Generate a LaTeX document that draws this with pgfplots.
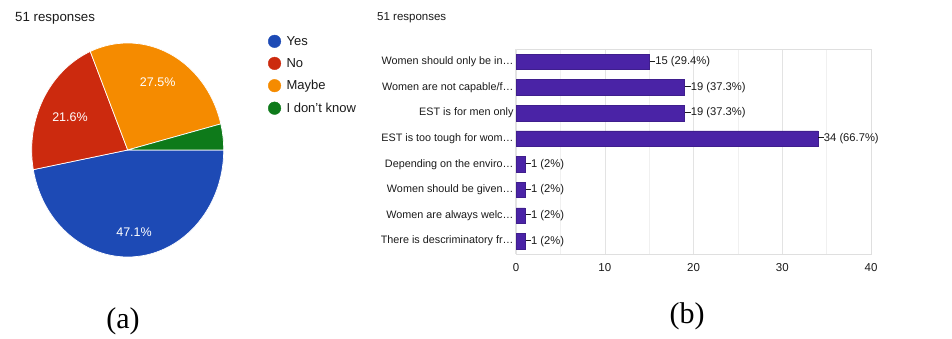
\documentclass[border=0pt]{standalone}
\usepackage{fontspec}
\setmainfont{Liberation Sans}
\newfontfamily\capfont{Liberation Serif}
\usepackage{pgfplots}
\pgfplotsset{compat=1.18}
\definecolor{pieblue}{HTML}{1D4AB5}
\definecolor{piered}{HTML}{CC2A0E}
\definecolor{pieorange}{HTML}{F58B00}
\definecolor{piegreen}{HTML}{0E7A1A}
\definecolor{barpurple}{HTML}{4A23A6}
\definecolor{txt}{HTML}{1A1A1A}
\begin{document}
\begin{tikzpicture}
\useasboundingbox (0pt,0pt) rectangle (952pt,339pt);
% counts for the pie (51 responses)
\def\nYes{24}\def\nNo{11}\def\nMaybe{14}\def\nDK{2}
\pgfmathsetmacro{\aA}{0}
\pgfmathsetmacro{\aB}{\aA-360*\nYes/51}
\pgfmathsetmacro{\aC}{\aB-360*\nNo/51}
\pgfmathsetmacro{\aD}{\aC-360*\nMaybe/51}
\pgfmathsetmacro{\aE}{\aD-360*\nDK/51}
\node[anchor=west, inner sep=0pt, font=\fontsize{13.3}{15}\selectfont, text=txt] at (15pt,321pt) {51 responses};
\node[anchor=west, inner sep=0pt, font=\fontsize{11.5}{13}\selectfont, text=txt] at (377pt,321pt) {51 responses};
\node[inner sep=0pt, font=\capfont\fontsize{30}{34}\selectfont] at (123pt,18pt) {(a)};
\node[inner sep=0pt, font=\capfont\fontsize{30}{34}\selectfont] at (687pt,23pt) {(b)};
% ---------- pie ----------
\begin{axis}[at={(127.7pt,189pt)}, anchor=center, scale only axis,
  width=192pt, height=214pt, xmin=-1, xmax=1, ymin=-1, ymax=1,
  hide axis, clip=false,
  legend cell align=left,
  legend image code/.code={\fill[#1] (0pt,0pt) circle (6.3pt);},
  legend style={draw=none, fill=none, at={(1.23,1.04)}, anchor=north west,
    font=\fontsize{13}{15}\selectfont, text=txt, row sep=8.6pt, inner sep=0pt,
    nodes={inner sep=1.5pt},
    /tikz/every odd column/.append style={column sep=4pt}}]
\addlegendimage{pieblue}\addlegendentry{Yes}
\addlegendimage{piered}\addlegendentry{No}
\addlegendimage{pieorange}\addlegendentry{Maybe}
\addlegendimage{piegreen}\addlegendentry{I don't know}
\fill[pieblue, draw=white, line width=0.7pt] (axis cs:0,0) -- ++(\aA:96pt and 107pt) arc[start angle=\aA, end angle=\aB, x radius=96pt, y radius=107pt] -- cycle;
\fill[piered, draw=white, line width=0.7pt] (axis cs:0,0) -- ++(\aB:96pt and 107pt) arc[start angle=\aB, end angle=\aC, x radius=96pt, y radius=107pt] -- cycle;
\fill[pieorange, draw=white, line width=0.7pt] (axis cs:0,0) -- ++(\aC:96pt and 107pt) arc[start angle=\aC, end angle=\aD, x radius=96pt, y radius=107pt] -- cycle;
\fill[piegreen, draw=white, line width=0.7pt] (axis cs:0,0) -- ++(\aD:96pt and 107pt) arc[start angle=\aD, end angle=\aE, x radius=96pt, y radius=107pt] -- cycle;
\node[text=white, font=\fontsize{12.5}{14}\selectfont] at (axis cs:0.066,-0.766) {47.1\%};
\node[text=white, font=\fontsize{12.5}{14}\selectfont] at (axis cs:0.3125,0.629) {27.5\%};
\node[text=white, font=\fontsize{12.5}{14}\selectfont] at (axis cs:-0.601,0.311) {21.6\%};
\end{axis}
% ---------- bars ----------
\begin{axis}[at={(516pt,85pt)}, anchor=south west, scale only axis,
  width=355pt, height=205pt, xbar, bar width=15.5pt,
  xmin=0, xmax=40, ymin=-0.5, ymax=7.5, y dir=reverse,
  ytick={0,...,7},
  yticklabels={Women should only be in…, Women are not capable/f…, EST is for men only, EST is too tough for wom…, Depending on the enviro…, Women should be given…, Women are always welc…, There is descriminatory fr…},
  xtick={0,10,20,30,40}, minor xtick={5,15,25,35},
  extra x ticks={0}, extra x tick labels={},
  extra x tick style={grid style={black!85, line width=1.5pt}},
  xmajorgrids, xminorgrids,
  major grid style={gray!22}, minor grid style={gray!12},
  major tick length=0pt, minor tick length=0pt,
  axis line style={gray!25},
  tick label style={font=\fontsize{10.8}{12}\selectfont, text=txt},
  yticklabel style={xshift=1pt},
  xticklabel style={yshift=-6pt, font=\fontsize{11.5}{13}\selectfont},
  /pgf/number format/assume math mode=true,
  point meta=explicit symbolic,
  nodes near coords={\rule[0.32em]{5.5pt}{0.6pt}\pgfplotspointmeta},
  every node near coord/.append style={anchor=west, inner sep=0pt, xshift=0.5pt,
    font=\fontsize{11.2}{13}\selectfont, text=txt}]
\addplot[fill=barpurple, draw=barpurple!85!black] coordinates {
  (15,0) [15 (29.4\%)]
  (19,1) [19 (37.3\%)]
  (19,2) [19 (37.3\%)]
  (34,3) [34 (66.7\%)]
  (1,4) [1 (2\%)]
  (1,5) [1 (2\%)]
  (1,6) [1 (2\%)]
  (1,7) [1 (2\%)]
};
\end{axis}
\end{tikzpicture}
\end{document}
